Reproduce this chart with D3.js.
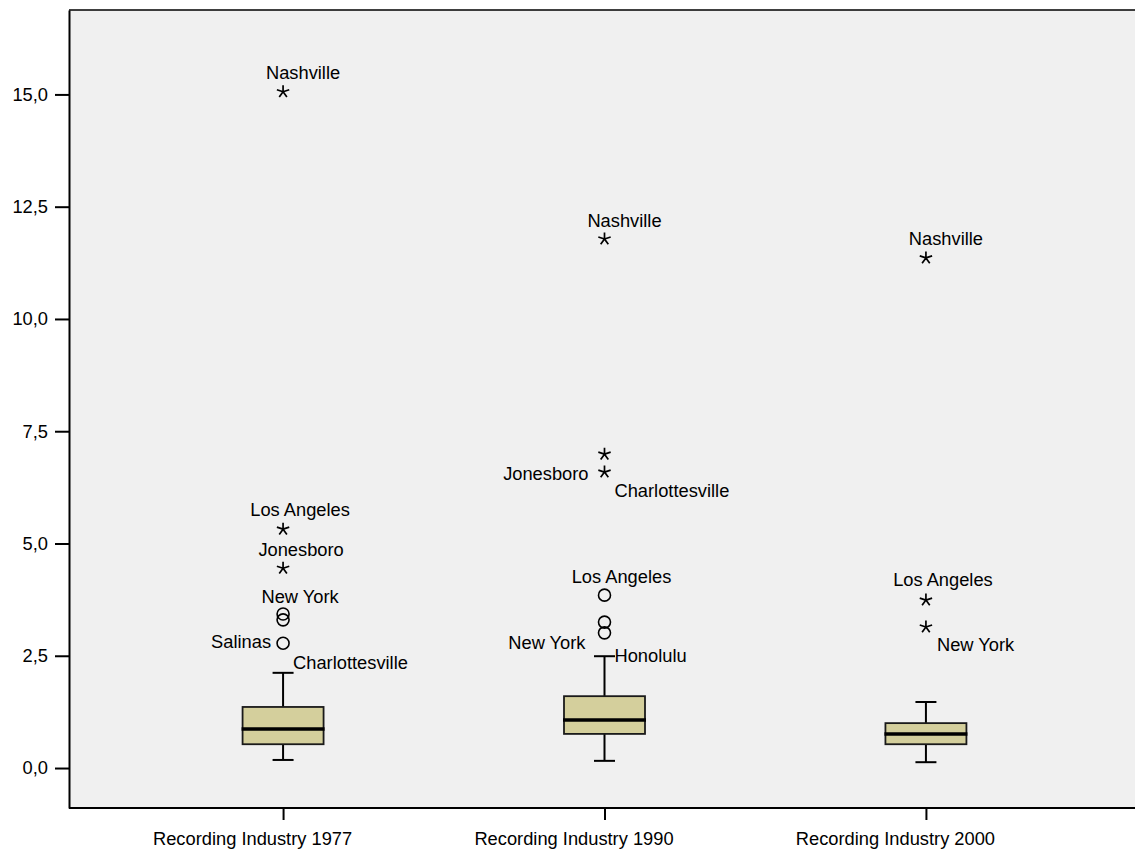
<!DOCTYPE html>
<html lang="en">
<head>
    <meta charset="utf-8">
    <style type="text/css">
        body { margin: 0; background: #fff; }
        text { font-family: "Liberation Sans", Arial, sans-serif; font-size: 18.3px; fill: #000; }
        .axis path, .axis line { stroke: #000; stroke-width: 2px; }
        .box { fill: #d4cf9c; stroke: #1a1a1a; stroke-width: 1.8px; }
        .whisker { stroke: #000; stroke-width: 2px; }
        .median { stroke: #000; stroke-width: 3.5px; }
        .mild { fill: none; stroke: #000; stroke-width: 1.6px; }
        .extreme { fill: none; stroke: #000; stroke-width: 1.7px; }
    </style>
</head>
<body>
<svg width="1135" height="854"></svg>

<script src="https://d3js.org/d3.v7.min.js"></script>
<script type="text/javascript">
    // box summaries, one value per category
    var categories = ["Recording Industry 1977", "Recording Industry 1990", "Recording Industry 2000"];
    var whiskerLow  = [0.18, 0.16, 0.13];
    var q1          = [0.53, 0.76, 0.53];
    var median      = [0.87, 1.07, 0.76];
    var q3          = [1.36, 1.60, 1.00];
    var whiskerHigh = [2.12, 2.49, 1.47];
    var yTicks = [0, 2.5, 5, 7.5, 10, 12.5, 15];

    // outliers: category index, value, kind ("mild" circle / "extreme" star), case label
    var outCat   = [0, 0, 0, 0, 0, 0,   1, 1, 1, 1, 1, 1,   2, 2, 2];
    var outValue = [15.06, 5.32, 4.45, 3.43, 3.30, 2.78,
                    11.78, 6.99, 6.59, 3.85, 3.25, 3.01,
                    11.36, 3.74, 3.14];
    var outKind  = ["extreme", "extreme", "extreme", "mild", "mild", "mild",
                    "extreme", "extreme", "extreme", "mild", "mild", "mild",
                    "extreme", "extreme", "extreme"];
    var outLabel = ["Nashville", "Los Angeles", "Jonesboro", "New York", "Charlottesville", "Salinas",
                    "Nashville", "Charlottesville", "Jonesboro", "Los Angeles", "New York", "Honolulu",
                    "Nashville", "Los Angeles", "New York"];

    // where each case label sits relative to its point: [anchor, dx, dy]
    var labelPlace = [
        ["middle", 20, -13], ["middle", 17, -13], ["middle", 18, -12], ["middle", 17, -11], ["start", 10, 49], ["end", -12, 5],
        ["middle", 20, -12], ["start", 10, 43], ["end", -16, 8], ["middle", 17, -12], ["end", -19, 27], ["start", 10, 29],
        ["middle", 20, -13], ["middle", 17, -14], ["start", 11, 24]
    ];

    var svg = d3.select("svg"),
        width = +svg.attr("width"),
        height = +svg.attr("height");

    var plotLeft = 69, plotTop = 10, plotBottom = 808;

    var y = d3.scaleLinear().domain([-0.89, 16.88]).range([plotBottom, plotTop]);
    var x = d3.scalePoint().domain(categories).range([plotLeft, 1140]).padding(0.666);

    var comma = function (v) { return d3.format(".1f")(v).replace(".", ","); };

    // plot background
    svg.append("rect")
        .attr("x", plotLeft).attr("y", plotTop)
        .attr("width", width - plotLeft).attr("height", plotBottom - plotTop)
        .attr("fill", "#f0f0f0");

    svg.append("line")
        .attr("x1", plotLeft).attr("x2", width)
        .attr("y1", plotTop).attr("y2", plotTop)
        .attr("stroke", "#000").attr("stroke-width", 1.5);

    // axes
    var yAxis = svg.append("g")
        .attr("class", "axis")
        .attr("transform", "translate(" + plotLeft + ",0)")
        .call(d3.axisLeft(y).tickValues(yTicks).tickFormat(comma).tickSize(14).tickSizeOuter(0).tickPadding(7));
    yAxis.selectAll("text").style("font-size", null).style("font-family", null);

    var xAxis = svg.append("g")
        .attr("class", "axis")
        .attr("transform", "translate(0," + plotBottom + ")")
        .call(d3.axisBottom(x).tickSize(12).tickSizeOuter(0).tickPadding(12));
    xAxis.select(".domain").attr("d", "M" + plotLeft + ",0H" + width);
    // category labels sit a little left of their tick, as in the original
    xAxis.selectAll("text").style("font-size", null).style("font-family", null).attr("x", -31);

    // boxes
    var boxW = 81, capW = 21;
    var idx = d3.range(categories.length);

    var boxes = svg.append("g").selectAll("g")
        .data(idx)
        .enter()
        .append("g");

    boxes.append("line")
        .attr("class", "whisker")
        .attr("x1", function (i) { return x(categories[i]); })
        .attr("x2", function (i) { return x(categories[i]); })
        .attr("y1", function (i) { return y(whiskerHigh[i]); })
        .attr("y2", function (i) { return y(whiskerLow[i]); });

    [whiskerHigh, whiskerLow].forEach(function (arr) {
        boxes.append("line")
            .attr("class", "whisker")
            .attr("x1", function (i) { return x(categories[i]) - capW / 2; })
            .attr("x2", function (i) { return x(categories[i]) + capW / 2; })
            .attr("y1", function (i) { return y(arr[i]); })
            .attr("y2", function (i) { return y(arr[i]); });
    });

    boxes.append("rect")
        .attr("class", "box")
        .attr("x", function (i) { return x(categories[i]) - boxW / 2; })
        .attr("width", boxW)
        .attr("y", function (i) { return y(q3[i]); })
        .attr("height", function (i) { return y(q1[i]) - y(q3[i]); });

    boxes.append("line")
        .attr("class", "median")
        .attr("x1", function (i) { return x(categories[i]) - boxW / 2 - 1; })
        .attr("x2", function (i) { return x(categories[i]) + boxW / 2 + 1; })
        .attr("y1", function (i) { return y(median[i]); })
        .attr("y2", function (i) { return y(median[i]); });

    // outliers
    var r = 6.5;
    var starPath = d3.range(5).map(function (k) {
        var a = (-90 + k * 72) * Math.PI / 180;
        return "M0,0L" + (r * Math.cos(a)).toFixed(2) + "," + (r * Math.sin(a)).toFixed(2);
    }).join("");

    var pts = svg.append("g").selectAll("g")
        .data(d3.range(outValue.length))
        .enter()
        .append("g")
        .attr("transform", function (i) {
            return "translate(" + x(categories[outCat[i]]) + "," + y(outValue[i]) + ")";
        });

    pts.filter(function (i) { return outKind[i] === "mild"; })
        .append("circle")
        .attr("class", "mild")
        .attr("r", 6);

    pts.filter(function (i) { return outKind[i] === "extreme"; })
        .append("path")
        .attr("class", "extreme")
        .attr("d", starPath);

    pts.append("text")
        .attr("text-anchor", function (i) { return labelPlace[i][0]; })
        .attr("x", function (i) { return labelPlace[i][1]; })
        .attr("y", function (i) { return labelPlace[i][2]; })
        .text(function (i) { return outLabel[i]; });
</script>

</body>
</html>
